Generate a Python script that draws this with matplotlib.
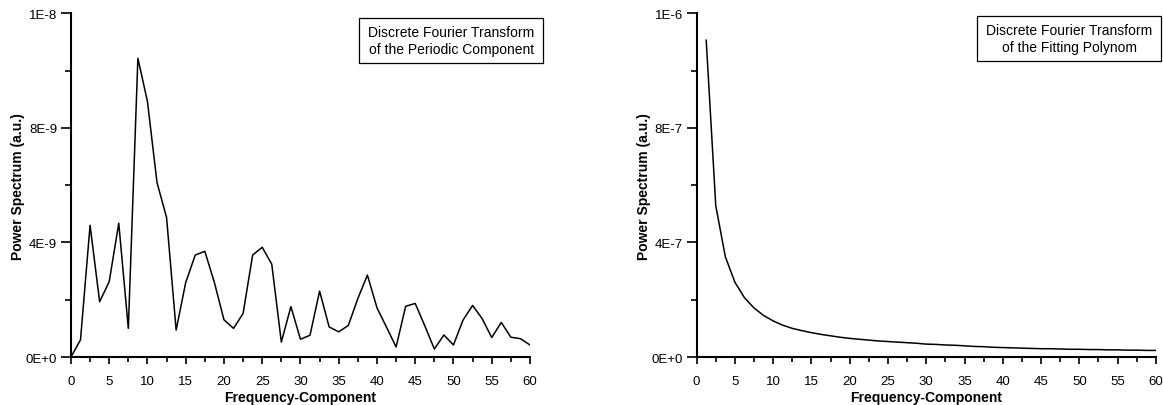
import numpy as np
import matplotlib.pyplot as plt
from matplotlib.patches import Rectangle
from matplotlib.ticker import MultipleLocator, FuncFormatter

plt.rcParams['font.family'] = ['Liberation Sans', 'DejaVu Sans']

# frequency components (step 1.25)
freq = np.arange(49) * 1.25

# DFT of the periodic component, units of 1E-9
periodic = [0.0, 0.6, 4.6, 1.93, 2.63, 4.67, 1.0, 10.43, 8.92, 6.09,
            4.87, 0.94, 2.6, 3.56, 3.69, 2.6, 1.3, 1.0, 1.52, 3.56,
            3.83, 3.24, 0.52, 1.76, 0.62, 0.76, 2.3, 1.05, 0.88, 1.1,
            2.04, 2.86, 1.72, 1.04, 0.35, 1.77, 1.87, 1.09, 0.28, 0.77,
            0.42, 1.29, 1.8, 1.34, 0.68, 1.21, 0.69, 0.64, 0.42]

# DFT of the fitting polynom, units of 1E-7 (starts at 1.25)
freq_poly = freq[1:]
polynom = [11.06, 5.28, 3.50, 2.61, 2.07, 1.71, 1.45, 1.26, 1.11, 1.00,
           0.92, 0.85, 0.79, 0.74, 0.69, 0.65, 0.62, 0.59, 0.56, 0.54,
           0.52, 0.50, 0.48, 0.45, 0.44, 0.42, 0.41, 0.39, 0.37, 0.36,
           0.34, 0.33, 0.32, 0.31, 0.30, 0.29, 0.29, 0.28, 0.27, 0.27,
           0.26, 0.26, 0.25, 0.25, 0.24, 0.24, 0.23, 0.23]

titles = ["Discrete Fourier Transform\nof the Periodic Component",
          "Discrete Fourier Transform\nof the Fitting Polynom"]


def fmt(v, pos):
    if v == 0:
        return "0E+0"
    s = "%.0E" % v
    m, e = s.split("E")
    return "%sE%d" % (m, int(e)) if int(e) < 0 else "%sE+%d" % (m, int(e))


def setup(ax, step):
    ax.set_xlim(0, 60)
    ax.set_ylim(0, 3 * step)
    for s in ['top', 'right']:
        ax.spines[s].set_visible(False)
    for s in ['left', 'bottom']:
        ax.spines[s].set_linewidth(1.5)
    ax.xaxis.set_major_locator(MultipleLocator(5))
    ax.xaxis.set_minor_locator(MultipleLocator(2.5))
    ax.yaxis.set_major_locator(MultipleLocator(step))
    ax.yaxis.set_minor_locator(MultipleLocator(step / 2))
    ax.yaxis.set_major_formatter(FuncFormatter(fmt))
    ax.tick_params(axis='y', which='major', length=7, width=1.2, labelsize=9.5, pad=3)
    ax.tick_params(axis='y', which='minor', length=4, width=1.2)
    ax.tick_params(axis='x', which='major', length=5, width=1.2, labelsize=9.5, pad=8)
    ax.tick_params(axis='x', which='minor', length=3.5, width=1.2)
    ax.set_xlabel("Frequency-Component", fontsize=10, fontweight='bold', labelpad=2)
    ax.set_ylabel("Power Spectrum (a.u.)", fontsize=10, fontweight='bold', labelpad=0.5)


fig = plt.figure(figsize=(11.63, 4.06), dpi=100)
ax1 = fig.add_axes([0.0610, 0.1182, 0.3947, 0.8466])
ax2 = fig.add_axes([0.5990, 0.1182, 0.3949, 0.8466])

ax1.plot(freq, np.array(periodic) * 1e-9, color='k', lw=1.1)
setup(ax1, 4e-9)
ax2.plot(freq_poly, np.array(polynom) * 1e-7, color='k', lw=1.1)
setup(ax2, 4e-7)

# annotation boxes (figure pixel coords)
W, H = 1163, 406
boxes = [(359.3, 19.3, 543.3, 64.3), (977.3, 16.7, 1161, 62)]
for (x0, y0, x1, y1), t in zip(boxes, titles):
    fig.patches.append(Rectangle((x0 / W, 1 - y1 / H), (x1 - x0) / W, (y1 - y0) / H,
                                 transform=fig.transFigure, fill=False,
                                 edgecolor='k', lw=0.9))
    fig.text((x0 + x1) / 2 / W, 1 - (y0 + y1) / 2 / H, t, ha='center', va='center',
             fontsize=10, linespacing=1.3)

fig.savefig("out.png", dpi=100)
